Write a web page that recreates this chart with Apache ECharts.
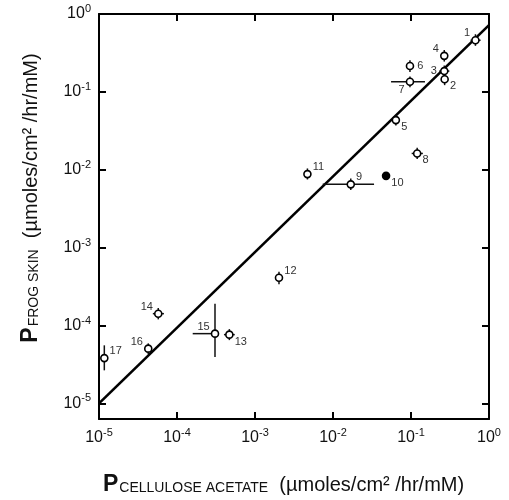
<!DOCTYPE html>
<html>
<head>
<meta charset="utf-8">
<script src="https://cdn.jsdelivr.net/npm/echarts@6/dist/echarts.min.js"></script>
<style>
  html, body { margin: 0; padding: 0; background: #fff; }
  #chart { width: 509px; height: 500px; }
</style>
</head>
<body>
<div id="chart"></div>
<script>
// compound numbers as printed next to each point
const ids = ['1', '2', '3', '4', '5', '6', '7', '8', '9', '10', '11', '12', '13', '14', '15', '16', '17']
// permeability through cellulose acetate (x) and frog skin (y), µmoles/cm²/hr/mM
const pCellulose = [0.67, 0.27, 0.267, 0.267, 0.064, 0.097, 0.097, 0.12, 0.0169, 0.0479, 0.0047, 0.00203, 4.69e-4, 5.75e-5, 3.07e-4, 4.28e-5, 1.17e-5]
const pFrog = [0.46, 0.145, 0.185, 0.29, 0.0434, 0.215, 0.135, 0.0162, 0.0065, 0.00835, 0.0088, 0.00041, 7.64e-5, 1.42e-4, 7.87e-5, 5.05e-5, 3.82e-5]
// error bar ends
const celluloseLow = [0.58, 0.27, 0.23, 0.267, 0.064, 0.097, 0.0555, 0.102, 0.00738, 0.0479, 0.0047, 0.00203, 4.0e-4, 4.9e-5, 1.59e-4, 4.28e-5, 1.17e-5]
const celluloseHigh = [0.78, 0.27, 0.31, 0.267, 0.064, 0.097, 0.151, 0.142, 0.0336, 0.0479, 0.0047, 0.00203, 5.5e-4, 6.8e-5, 3.07e-4, 4.28e-5, 1.17e-5]
const frogLow = [0.39, 0.122, 0.158, 0.245, 0.037, 0.18, 0.115, 0.0137, 0.0055, 0.00835, 0.0075, 0.00034, 6.5e-5, 1.2e-4, 3.94e-5, 4.3e-5, 2.66e-5]
const frogHigh = [0.55, 0.172, 0.218, 0.345, 0.051, 0.255, 0.158, 0.0192, 0.0077, 0.00835, 0.0104, 0.00049, 9.0e-5, 1.68e-4, 1.91e-4, 5.9e-5, 5.57e-5]
// solid symbol (others are open)
const filledIds = ['10']
// line drawn through the data
const fitLine = [[1e-5, 1e-5], [1, 0.72]]
// decade exponents used for ticks and labels
const decades = [-5, -4, -3, -2, -1, 0]
// where each number sits around its point
const labelSide = ['tl', 'br', 'l', 'tl', 'br', 'r', 'bl', 'br', 'tr', 'br', 'tr', 'tr', 'br', 'tl', 'tl', 'tl', 'tr']

const lg = v => Math.log10(v)
const FONT = 'Liberation Sans, Arial, Helvetica, sans-serif'

const sidePlacement = {
  tl: { position: 'left', distance: 1, offset: [0, -7] },
  tr: { position: 'right', distance: 1, offset: [0, -7] },
  bl: { position: 'left', distance: 1, offset: [0, 8] },
  br: { position: 'right', distance: 1, offset: [0, 7] },
  l: { position: 'left', distance: 3 },
  r: { position: 'right', distance: 3 }
}

const pointData = ids.map((id, i) => {
  const filled = filledIds.includes(id)
  return {
    name: id,
    value: [lg(pCellulose[i]), lg(pFrog[i])],
    itemStyle: { color: filled ? '#000' : '#fff' },
    label: sidePlacement[labelSide[i]]
  }
})

const errorData = ids.map((id, i) => [
  lg(pCellulose[i]), lg(pFrog[i]),
  lg(celluloseLow[i]), lg(celluloseHigh[i]),
  lg(frogLow[i]), lg(frogHigh[i])
])

const tickRich = {
  b: { fontSize: 16, lineHeight: 21, fontFamily: FONT, color: '#111' },
  s: { fontSize: 11, lineHeight: 11, verticalAlign: 'top', fontFamily: FONT, color: '#111' }
}

function makeAxis(extra) {
  return Object.assign({
    type: 'value',
    axisLine: { onZero: false, lineStyle: { color: '#000', width: 2 } },
    axisTick: { inside: true, length: 7, customValues: decades, lineStyle: { color: '#000', width: 2 } },
    splitLine: { show: false },
    axisLabel: {
      customValues: decades,
      margin: 8,
      formatter: v => '{b|10}{s|' + Math.round(v) + '}',
      rich: tickRich
    }
  }, extra)
}

const titleRich = {
  p: { fontSize: 23, fontWeight: 'bold', fontFamily: FONT, fill: '#111', color: '#111' },
  s: { fontSize: 14, padding: [7, 0, 0, 1], fontFamily: FONT, fill: '#111', color: '#111' },
  u: { fontSize: 20, fontFamily: FONT, fill: '#111', color: '#111' }
}

const chart = echarts.init(document.getElementById('chart'))
chart.setOption({
  backgroundColor: '#fff',
  animation: false,
  textStyle: { fontFamily: FONT },
  grid: { left: 99, right: 20, top: 14, bottom: 81 },
  xAxis: [
    makeAxis({ position: 'bottom', min: -5, max: 0, interval: 1 }),
    makeAxis({ position: 'top', min: -5, max: 0, interval: 1, axisLabel: { show: false } })
  ],
  yAxis: [
    makeAxis({ position: 'left', min: -5.2, max: 0 }),
    makeAxis({ position: 'right', min: -5.2, max: 0, axisLabel: { show: false } })
  ],
  graphic: [
    {
      type: 'text',
      x: 103,
      y: 485,
      style: {
        text: '{p|P}{s|CELLULOSE ACETATE}{u|  (µmoles/cm² /hr/mM)}',
        rich: titleRich,
        verticalAlign: 'middle',
        textVerticalAlign: 'middle'
      }
    },
    {
      type: 'text',
      x: 31,
      y: 198,
      rotation: Math.PI / 2,
      style: {
        text: '{p|P}{s|FROG SKIN}{u|  (µmoles/cm² /hr/mM)}',
        rich: titleRich,
        align: 'center',
        textAlign: 'center',
        verticalAlign: 'middle',
        textVerticalAlign: 'middle'
      }
    }
  ],
  series: [
    {
      type: 'line',
      data: fitLine.map(p => [lg(p[0]), lg(p[1])]),
      symbol: 'none',
      lineStyle: { color: '#000', width: 2.6 },
      z: 2
    },
    {
      type: 'custom',
      data: errorData,
      encode: { x: [0, 2, 3], y: [1, 4, 5] },
      renderItem(params, api) {
        const c = api.coord([api.value(0), api.value(1)])
        const xl = api.coord([api.value(2), api.value(1)])
        const xh = api.coord([api.value(3), api.value(1)])
        const yl = api.coord([api.value(0), api.value(4)])
        const yh = api.coord([api.value(0), api.value(5)])
        const style = { stroke: '#111', lineWidth: 1.5 }
        return {
          type: 'group',
          children: [
            { type: 'line', shape: { x1: xl[0], y1: c[1], x2: xh[0], y2: c[1] }, style },
            { type: 'line', shape: { x1: c[0], y1: yl[1], x2: c[0], y2: yh[1] }, style }
          ]
        }
      },
      z: 3
    },
    {
      type: 'scatter',
      data: pointData,
      symbol: 'circle',
      symbolSize: 7,
      itemStyle: { borderColor: '#000', borderWidth: 1.6, opacity: 1 },
      label: {
        show: true,
        formatter: p => p.name,
        fontSize: 11,
        color: '#333',
        fontFamily: FONT
      },
      emphasis: { disabled: true },
      z: 4
    }
  ]
})
</script>
</body>
</html>
